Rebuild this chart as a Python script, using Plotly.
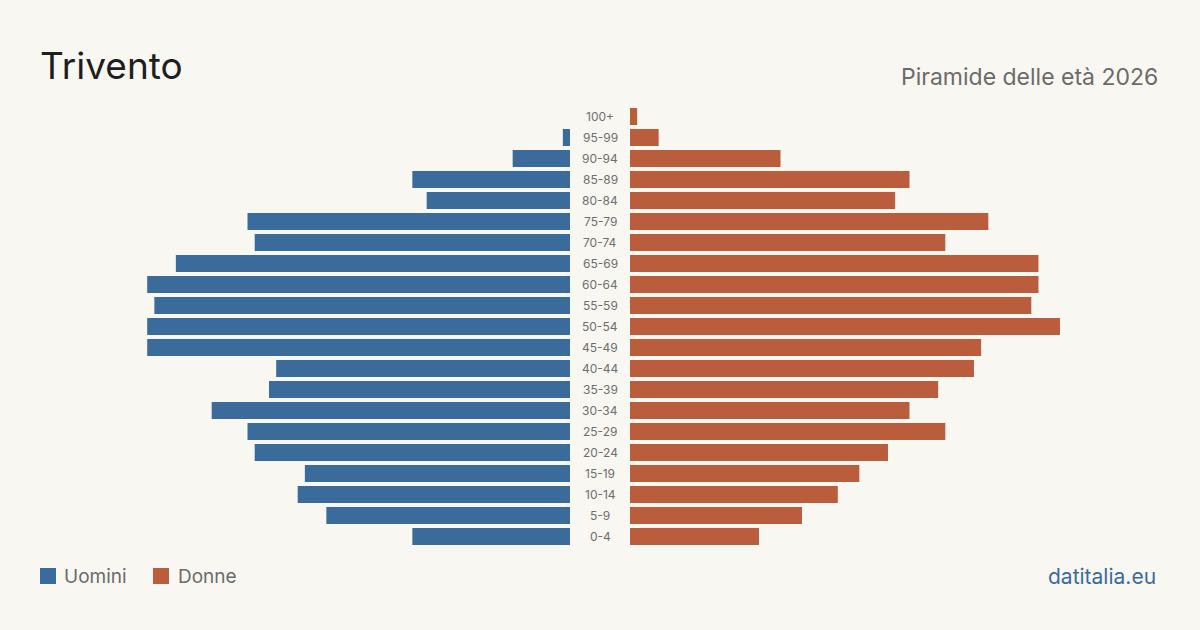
import plotly.graph_objects as go

age_groups = ["0-4", "5-9", "10-14", "15-19", "20-24", "25-29", "30-34", "35-39",
              "40-44", "45-49", "50-54", "55-59", "60-64", "65-69", "70-74", "75-79",
              "80-84", "85-89", "90-94", "95-99", "100+"]
uomini = [22, 34, 38, 37, 44, 45, 50, 42, 41, 59, 59, 58, 59, 55, 44, 45, 20, 22, 8, 1, 0]
donne = [18, 24, 29, 32, 36, 44, 39, 43, 48, 49, 60, 56, 57, 57, 44, 50, 37, 39, 21, 4, 1]

title = "Trivento"
subtitle = "Piramide delle età 2026"
source = "datitalia.eu"

BLUE = "#3b6b9b"
ORANGE = "#b95d3c"
BG = "#f9f7f2"
W, H = 1200, 630
FONT = "Inter, 'Noto Sans', sans-serif"
RMAX = 62

fig = go.Figure()
fig.add_trace(go.Bar(y=age_groups, x=uomini, orientation="h", marker_color=BLUE,
                     marker_line_width=0,
                     xaxis="x", yaxis="y", name="Uomini", showlegend=False,
                     hoverinfo="x+y"))
fig.add_trace(go.Bar(y=age_groups, x=donne, orientation="h", marker_color=ORANGE,
                     marker_line_width=0,
                     xaxis="x2", yaxis="y", name="Donne", showlegend=False,
                     hoverinfo="x+y"))

y_dom = [(H - 547) / H, (H - 106) / H]
ax_common = dict(showgrid=False, zeroline=False, showticklabels=False, showline=False,
                 fixedrange=True)
fig.update_layout(
    width=W, height=H, margin=dict(l=0, r=0, t=0, b=0),
    paper_bgcolor=BG, plot_bgcolor=BG,
    bargap=0.19,
    xaxis=dict(domain=[(570 - 444.3) / W, 570 / W], range=[RMAX, 0], **ax_common),
    xaxis2=dict(domain=[630 / W, (630 + 444.3) / W], range=[0, RMAX], anchor="y", **ax_common),
    yaxis=dict(domain=y_dom, categoryorder="array", categoryarray=age_groups,
               showticklabels=False, showgrid=False, zeroline=False, fixedrange=True),
    font=dict(family=FONT),
)

anns = []
for g in age_groups:
    anns.append(dict(x=600 / W, xref="paper", y=g, yref="y", text=g, showarrow=False,
                     xanchor="center", yanchor="middle",
                     font=dict(size=12, color="#6e6e6e", family=FONT)))
anns.append(dict(x=38 / W, y=(H - 66) / H, xref="paper", yref="paper", text=title,
                 showarrow=False, xanchor="left", yanchor="middle",
                 font=dict(size=37, color="#1e1e1e", family=FONT)))
anns.append(dict(x=1160 / W, y=(H - 77) / H, xref="paper", yref="paper", text=subtitle,
                 showarrow=False, xanchor="right", yanchor="middle",
                 font=dict(size=23, color="#6b6b6b", family=FONT)))
anns.append(dict(x=62 / W, y=(H - 576) / H, xref="paper", yref="paper", text="Uomini",
                 showarrow=False, xanchor="left", yanchor="middle",
                 font=dict(size=19, color="#6b6b6b", family=FONT)))
anns.append(dict(x=176 / W, y=(H - 576) / H, xref="paper", yref="paper", text="Donne",
                 showarrow=False, xanchor="left", yanchor="middle",
                 font=dict(size=19, color="#6b6b6b", family=FONT)))
anns.append(dict(x=1158 / W, y=(H - 576) / H, xref="paper", yref="paper", text=source,
                 showarrow=False, xanchor="right", yanchor="middle",
                 font=dict(size=21, color="#3b6b9b", family=FONT)))
fig.update_layout(annotations=anns)

shapes = [
    dict(type="rect", xref="paper", yref="paper", x0=40 / W, x1=56 / W,
         y0=(H - 584) / H, y1=(H - 568) / H, fillcolor=BLUE, line=dict(width=0)),
    dict(type="rect", xref="paper", yref="paper", x0=153 / W, x1=169 / W,
         y0=(H - 584) / H, y1=(H - 568) / H, fillcolor=ORANGE, line=dict(width=0)),
]
fig.update_layout(shapes=shapes)

fig.write_html("out.html", config={"displayModeBar": False})
